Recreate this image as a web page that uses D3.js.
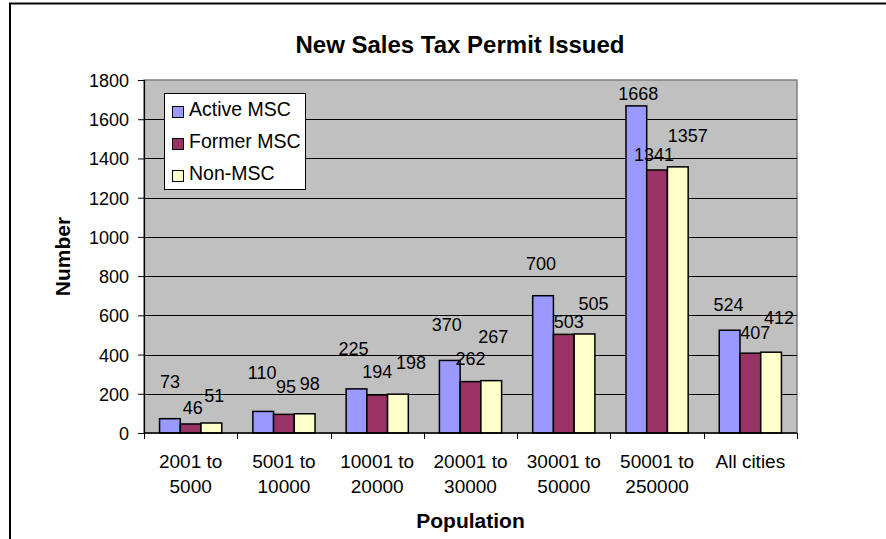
<!DOCTYPE html>
<html>
<head>
<meta charset="utf-8">
<script src="https://cdn.jsdelivr.net/npm/d3@7"></script>
<style>
  html, body { margin: 0; padding: 0; background: #fff; }
  svg { display: block; font-family: Arial, "Liberation Sans", sans-serif; }
</style>
</head>
<body>
<svg id="chart" width="886" height="539"></svg>
<script>
// Population bands (two-line labels) and permit counts per city group
const categories = ["2001 to|5000", "5001 to|10000", "10001 to|20000", "20001 to|30000",
                    "30001 to|50000", "50001 to|250000", "All cities"];
const seriesNames = ["Active MSC", "Former MSC", "Non-MSC"];
const activeMSC = [73, 110, 225, 370, 700, 1668, 524];
const formerMSC = [46, 95, 194, 262, 503, 1341, 407];
const nonMSC    = [51, 98, 198, 267, 505, 1357, 412];
const yTicks = [0, 200, 400, 600, 800, 1000, 1200, 1400, 1600, 1800];

const seriesValues = [activeMSC, formerMSC, nonMSC];
const colors = ["#9999FF", "#993366", "#FFFFCC"];

// Hand-placed value labels: horizontal nudge from bar centre, gap above bar top
const labelDx  = [[0, -1, -3, -3, -2, 2, -1], [2, 2, 0, 0, 5, -3, 5], [3, 5, 13, 2, 9, 10, 8]];
const labelGap = [[31, 32, 34, 29, 26, 6, 19], [10, 21, 17, 17, 6, 9, 14], [21, 24, 25, 38, 24, 25, 28]];

const svg = d3.select("#chart");

// chart frame (extends past the right/bottom edge)
svg.append("rect").attr("x", 10).attr("y", 3.5).attr("width", 1000).attr("height", 1000)
  .attr("fill", "none").attr("stroke", "#000").attr("stroke-width", 2);

const plot = { left: 144, top: 80, right: 797, bottom: 433 };

const x0 = d3.scaleBand().domain(d3.range(categories.length))
  .range([plot.left, plot.right]).paddingInner(0).paddingOuter(0);
const bw = x0.bandwidth() / 4.5;
const x1 = d3.scaleBand().domain(d3.range(seriesNames.length))
  .range([x0.bandwidth() * 0.75 / 4.5, x0.bandwidth() * 3.75 / 4.5]);
const y = d3.scaleLinear().domain([0, 1800]).range([plot.bottom, plot.top]);

// plot background
svg.append("rect").attr("x", plot.left).attr("y", plot.top)
  .attr("width", plot.right - plot.left).attr("height", plot.bottom - plot.top)
  .attr("fill", "#C0C0C0").attr("stroke", "#808080").attr("stroke-width", 1.5);

// gridlines
svg.append("g").selectAll("line").data(yTicks.filter(t => t > 0 && t < 1800)).join("line")
  .attr("x1", plot.left).attr("x2", plot.right)
  .attr("y1", d => Math.round(y(d)) + 0.5).attr("y2", d => Math.round(y(d)) + 0.5)
  .attr("stroke", "#000").attr("stroke-width", 1);

// bars
const groups = svg.append("g").selectAll("g").data(categories).join("g")
  .attr("transform", (d, i) => `translate(${x0(i)},0)`);
groups.selectAll("rect").data((d, i) => seriesValues.map((s, k) => ({ k, v: s[i] }))).join("rect")
  .attr("x", d => x1(d.k)).attr("width", x1.bandwidth())
  .attr("y", d => y(d.v)).attr("height", d => y(0) - y(d.v))
  .attr("fill", d => colors[d.k]).attr("stroke", "#000").attr("stroke-width", 1.5);

// value labels
groups.selectAll("text").data((d, i) => seriesValues.map((s, k) => ({ k, i, v: s[i] }))).join("text")
  .attr("x", d => x1(d.k) + x1.bandwidth() / 2 + labelDx[d.k][d.i])
  .attr("y", d => y(d.v) - labelGap[d.k][d.i])
  .attr("text-anchor", "middle").attr("font-size", 18).attr("fill", "#000")
  .text(d => d.v);

// y axis
const yAxis = svg.append("g").attr("transform", `translate(${plot.left},0)`)
  .call(d3.axisLeft(y).tickValues(yTicks).tickSize(6).tickPadding(9).tickFormat(d3.format("d")));
yAxis.select(".domain").attr("stroke", "#000").attr("stroke-width", 1.2);
yAxis.selectAll(".tick line").attr("stroke", "#000");
yAxis.selectAll(".tick text").attr("font-size", 18).attr("font-family", "Arial, 'Liberation Sans', sans-serif")
  .attr("fill", "#000").attr("dy", "0.36em");

// x axis with ticks on category boundaries
const xAxisG = svg.append("g");
xAxisG.append("line").attr("x1", plot.left).attr("x2", plot.right)
  .attr("y1", plot.bottom).attr("y2", plot.bottom).attr("stroke", "#000").attr("stroke-width", 1.5);
xAxisG.selectAll("line.tk").data(d3.range(categories.length + 1)).join("line").attr("class", "tk")
  .attr("x1", i => Math.round(plot.left + i * x0.step()) + 0.5)
  .attr("x2", i => Math.round(plot.left + i * x0.step()) + 0.5)
  .attr("y1", plot.bottom).attr("y2", plot.bottom + 6).attr("stroke", "#000");
const catText = xAxisG.selectAll("text").data(categories).join("text")
  .attr("text-anchor", "middle").attr("font-size", 19).attr("fill", "#000");
catText.each(function (d, i) {
  const lines = d.split("|");
  lines.forEach((ln, j) => {
    d3.select(this).append("tspan")
      .attr("x", x0(i) + x0.bandwidth() / 2)
      .attr("y", 468 + j * 25)
      .text(ln);
  });
});

// titles
svg.append("text").attr("x", 460).attr("y", 53).attr("text-anchor", "middle")
  .attr("font-size", 24).attr("font-weight", "bold").text("New Sales Tax Permit Issued");
svg.append("text").attr("x", (plot.left + plot.right) / 2).attr("y", 528).attr("text-anchor", "middle")
  .attr("font-size", 21).attr("font-weight", "bold").text("Population");
svg.append("text").attr("transform", `translate(70,${(plot.top + plot.bottom) / 2}) rotate(-90)`)
  .attr("text-anchor", "middle").attr("font-size", 21).attr("font-weight", "bold").text("Number");

// legend
const lg = svg.append("g").attr("transform", "translate(164,93)");
lg.append("rect").attr("x", 0.5).attr("y", 0.5).attr("width", 141).attr("height", 96)
  .attr("fill", "#fff").attr("stroke", "#000").attr("stroke-width", 1);
seriesNames.forEach((name, k) => {
  lg.append("rect").attr("x", 8.5).attr("y", 13.5 + k * 32).attr("width", 11).attr("height", 11)
    .attr("fill", colors[k]).attr("stroke", "#000").attr("stroke-width", 1);
  lg.append("text").attr("x", 25).attr("y", 23 + k * 32).attr("font-size", 19.5).text(name);
});
</script>
</body>
</html>
